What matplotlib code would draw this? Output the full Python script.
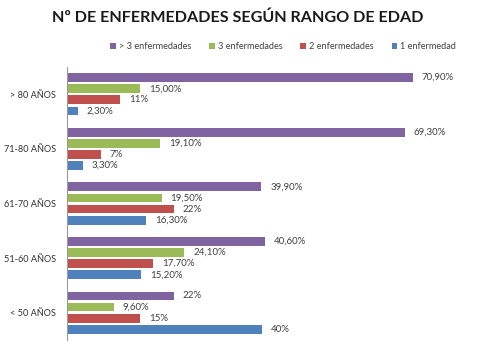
import matplotlib.pyplot as plt
import numpy as np

plt.rcParams['font.family'] = ['Lato', 'DejaVu Sans']

# data
grupos = ["> 80 AÑOS", "71-80 AÑOS", "61-70 AÑOS", "51-60 AÑOS", "< 50 AÑOS"]
series = ["> 3 enfermedades", "3 enfermedades", "2 enfermedades", "1 enfermedad"]
mas3 = [70.9, 69.3, 39.9, 40.6, 22]
tres = [15.0, 19.1, 19.5, 24.1, 9.6]
dos = [11, 7, 22, 17.7, 15]
una = [2.3, 3.3, 16.3, 15.2, 40]
lab_mas3 = ["70,90%", "69,30%", "39,90%", "40,60%", "22%"]
lab_tres = ["15,00%", "19,10%", "19,50%", "24,10%", "9,60%"]
lab_dos = ["11%", "7%", "22%", "17,70%", "15%"]
lab_una = ["2,30%", "3,30%", "16,30%", "15,20%", "40%"]
colores = ["#8064A2", "#9BBB59", "#C0504D", "#4F81BD"]

valores = [mas3, tres, dos, una]
etiquetas = [lab_mas3, lab_tres, lab_dos, lab_una]

fig = plt.figure(figsize=(4.84, 3.64), dpi=100)
ax = fig.add_axes([0.138, 0.066, 0.806, 0.75])

y = np.arange(len(grupos))[::-1]
slot = 0.204
offsets = [1.5, 0.5, -0.5, -1.5]
for vals, labs, col, off, name in zip(valores, etiquetas, colores, offsets, series):
    bars = ax.barh(y + off * slot, vals, height=0.16, color=col, label=name)
    for b, t in zip(bars, labs):
        ax.text(b.get_width() + 1.8, b.get_y() + b.get_height() / 2, t,
                va='center', ha='left', fontsize=7, color='#404040')

ax.set_xlim(0, 80)
ax.set_ylim(-0.5, 4.5)
ax.set_yticks(y)
ax.set_yticklabels(grupos, fontsize=6.6, color='#303030')
ax.tick_params(axis='y', length=0, pad=8)
ax.set_xticks([])
for s in ['top', 'right', 'bottom']:
    ax.spines[s].set_visible(False)
ax.spines['left'].set_color('#9a9a9a')
ax.spines['left'].set_linewidth(0.8)

fig.text(0.492, 0.95, "Nº DE ENFERMEDADES SEGÚN RANGO DE EDAD", ha='center', va='center',
         fontsize=11.6, fontweight='bold', color='#1a1a1a')

fig.legend(loc='center', bbox_to_anchor=(0.585, 0.872), ncol=4, frameon=False,
           fontsize=6.6, handlelength=0.6, handleheight=0.6, handletextpad=0.3,
           columnspacing=2.0, labelcolor='#404040')

fig.savefig("out.png", dpi=100)
